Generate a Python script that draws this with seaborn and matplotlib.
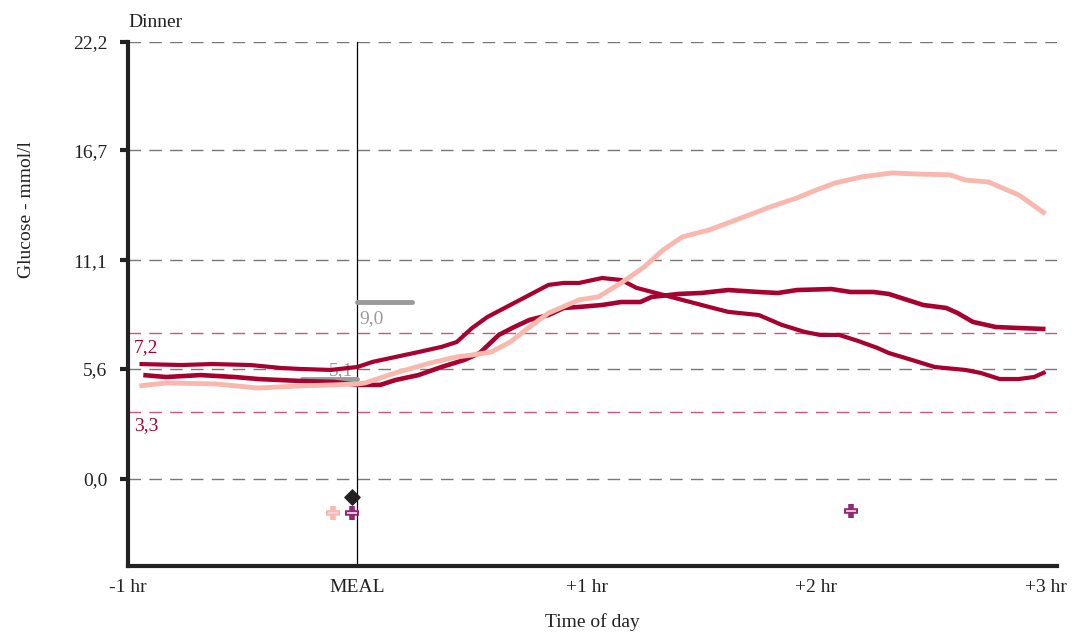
import numpy as np
import pandas as pd
import seaborn as sns
import matplotlib.pyplot as plt

# minutes relative to the meal, glucose in mmol/l
min_a = [-57, -46, -38, -28, -20, -15, -7, 0, 4, 10, 16, 22, 26, 30, 34, 40, 45, 50, 54, 58,
         64, 69, 73, 82, 92, 97, 105, 111, 117, 121, 126, 131, 136, 139, 145, 151, 159, 163,
         168, 173, 177, 180]
glu_a = [5.84, 5.79, 5.84, 5.79, 5.64, 5.59, 5.54, 5.69, 5.95, 6.20, 6.45, 6.71, 6.96, 7.67,
         8.23, 8.84, 9.35, 9.86, 9.96, 9.96, 10.21, 10.11, 9.71, 9.25, 8.74, 8.49, 8.33, 7.83,
         7.47, 7.32, 7.32, 7.01, 6.66, 6.40, 6.05, 5.69, 5.54, 5.39, 5.08, 5.08, 5.18, 5.44]

min_b = [-56, -50, -41, -32, -26, -15, -6, 0, 6, 10, 16, 22, 28, 32, 37, 41, 45, 50, 54, 58,
         64, 69, 74, 77, 84, 90, 97, 105, 110, 115, 124, 129, 135, 139, 143, 148, 154, 157,
         161, 167, 173, 180]
glu_b = [5.28, 5.18, 5.28, 5.18, 5.08, 4.98, 4.93, 4.78, 4.78, 5.03, 5.28, 5.69, 6.05, 6.40,
         7.32, 7.72, 8.08, 8.33, 8.69, 8.74, 8.84, 8.99, 8.99, 9.25, 9.40, 9.45, 9.60, 9.50,
         9.45, 9.60, 9.65, 9.50, 9.50, 9.40, 9.15, 8.84, 8.69, 8.43, 7.98, 7.72, 7.67, 7.62]

min_c = [-57, -50, -37, -26, -15, -6, 0, 2, 10, 19, 26, 30, 35, 40, 45, 50, 58, 63, 69, 75,
         80, 85, 92, 99, 108, 115, 120, 125, 132, 140, 145, 155, 159, 165, 173, 180]
glu_c = [4.73, 4.88, 4.83, 4.62, 4.73, 4.78, 4.83, 4.88, 5.39, 5.89, 6.20, 6.30, 6.45, 6.96,
         7.72, 8.43, 9.10, 9.25, 9.96, 10.77, 11.64, 12.30, 12.65, 13.16, 13.82, 14.28, 14.68,
         15.04, 15.35, 15.55, 15.50, 15.45, 15.19, 15.09, 14.43, 13.47]

y_ticks = [0.0, 5.6, 11.1, 16.7, 22.2]
x_ticks = [-60, 0, 60, 120, 180]
x_labels = ["-1 hr", "MEAL", "+1 hr", "+2 hr", "+3 hr"]

range_hi, range_lo = 7.4, 3.4
range_labels = ["7,2", "3,3"]

pre_target = 5.1
post_target = 9.0
target_span = 14.4

event_diamond = (-1.3, -0.9)
pink_cross = [(-6.3, -1.73)]
purple_cross = [(-1.3, -1.73), (129, -1.63)]

dark = "#a8002f"
pink = "#f9b8ae"
purple = "#8e2a70"
grey = "#9a9a9a"
range_col = "#c9577c"
ink = "#222222"

df = pd.concat([
    pd.DataFrame({"minute": min_a, "glucose": glu_a, "trace": "a"}),
    pd.DataFrame({"minute": min_b, "glucose": glu_b, "trace": "b"}),
    pd.DataFrame({"minute": min_c, "glucose": glu_c, "trace": "c"}),
])

sns.set_style("white")
plt.rcParams["font.family"] = ["Liberation Serif", "DejaVu Serif"]
fs = 14

fig = plt.figure(figsize=(10.72, 6.37), dpi=100)
ax = fig.add_axes([128 / 1072, 1 - 566 / 637, (1057 - 128) / 1072, (566 - 42) / 637])

# grid lines
for v in y_ticks:
    ax.axhline(v, color="#777777", lw=1, dashes=(9, 6), zorder=1)
for v in (range_hi, range_lo):
    ax.axhline(v, color=range_col, lw=1, dashes=(9, 6), zorder=1)

ax.axvline(0, color="black", lw=0.9, zorder=2)

# target bars
ax.plot([-target_span, 0], [pre_target, pre_target], color=grey, lw=3.5,
        solid_capstyle="round", zorder=2)
ax.plot([0, target_span], [post_target, post_target], color=grey, lw=3.5,
        solid_capstyle="round", zorder=2)
ax.text(-4.3, pre_target + 0.18, "5,1", color=grey, fontsize=fs, ha="center", va="baseline", zorder=2)
ax.text(0.5, post_target - 0.4, "9,0", color=grey, fontsize=fs, ha="left", va="top", zorder=2)

sns.lineplot(data=df, x="minute", y="glucose", hue="trace", units="trace", estimator=None,
             palette={"a": dark, "b": dark, "c": pink}, ax=ax, legend=False, zorder=3,
             lw=3)
for line, w in zip(ax.get_lines()[-3:], [3.0, 3.3, 3.5]):
    line.set_linewidth(w)
    line.set_solid_capstyle("butt")

ax.text(-58.5, range_hi - 0.3, range_labels[0], color=dark, fontsize=fs, va="top")
ax.text(-58.5, range_lo - 0.25, range_labels[1], color=dark, fontsize=fs, va="top")

# events
ax.scatter([event_diamond[0]], [event_diamond[1]], marker="D", s=60, color=ink, zorder=4)
for pts, col in ((pink_cross, pink), (purple_cross, purple)):
    xs = [p[0] for p in pts]
    ys = [p[1] for p in pts]
    ax.scatter(xs, ys, marker="|", s=110, linewidths=4, color=col, zorder=4)
    ax.scatter(xs, ys, marker="_", s=110, linewidths=4, color=col, zorder=4)
    ax.scatter(xs, ys, marker="_", s=60, linewidths=1.3, color="#f3d2e4", zorder=5)

ax.set_xlim(-60, 183)
ax.set_ylim(-4.42, 22.2)
ax.set_yticks(y_ticks)
ax.set_yticklabels([f"{v:.1f}".replace(".", ",") for v in y_ticks], fontsize=fs, color=ink)
ax.set_xticks(x_ticks)
ax.set_xticklabels(x_labels, fontsize=fs, color=ink)
ax.tick_params(axis="y", left=True, length=6, width=3, color=ink, pad=9)
ax.tick_params(axis="x", bottom=False, pad=6)

for s in ("top", "right"):
    ax.spines[s].set_visible(False)
for s in ("left", "bottom"):
    ax.spines[s].set_linewidth(3)
    ax.spines[s].set_color(ink)

ax.set_xlabel("Time of day", fontsize=fs, color=ink, labelpad=12)
ax.set_ylabel("Glucose - mmol/l", fontsize=fs, color=ink)
ax.yaxis.set_label_coords(-0.1, 0.68)
ax.set_title("Dinner", loc="left", fontsize=fs, color=ink, pad=11)

fig.savefig("out.png", dpi=100)
